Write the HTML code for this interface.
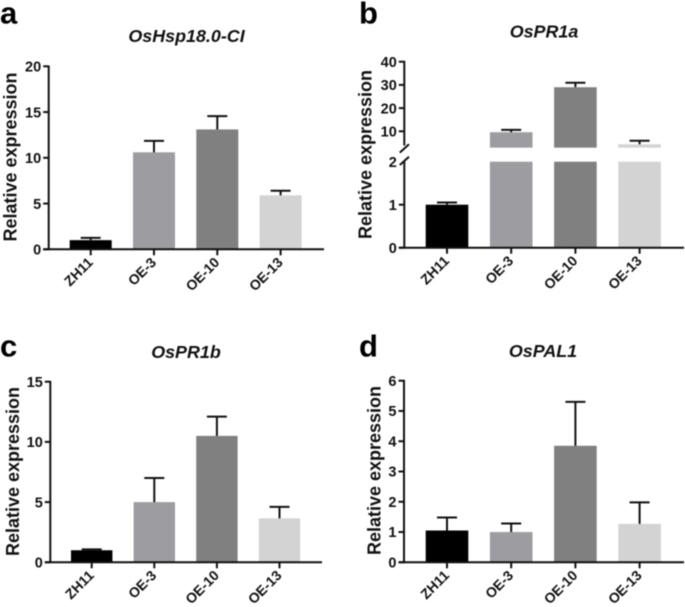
<!DOCTYPE html>
<html>
<head>
<meta charset="utf-8">
<title>Relative expression charts</title>
<style>
html,body{margin:0;padding:0;background:#fff;width:685px;height:607px;overflow:hidden}
svg{display:block;filter:blur(0.45px)}
text{font-family:"Liberation Sans",Arial,sans-serif;font-weight:700;fill:#111}
.letter{font-size:31px;fill:#000}
.title{font-size:17.9px;font-style:italic;text-anchor:middle}
.ytitle{font-size:18px;text-anchor:middle}
.tick{font-size:14.5px;text-anchor:end}
.xlab{font-size:14px;text-anchor:end}
</style>
</head>
<body>
<svg id="figure" xmlns="http://www.w3.org/2000/svg" width="685" height="607" viewBox="0 0 685 607">
<rect width="685" height="607" fill="#fff"/>
<text class="letter" x="0" y="23.5">a</text>
<text class="letter" x="359" y="23.5">b</text>
<text class="letter" x="0" y="356.5">c</text>
<text class="letter" x="359" y="356.5">d</text>
<text class="title" x="186.5" y="42">OsHsp18.0-CI</text>
<text class="title" x="544" y="37.5">OsPR1a</text>
<text class="title" x="186" y="358">OsPR1b</text>
<text class="title" x="543" y="357">OsPAL1</text>
<text class="ytitle" transform="translate(16.5,157) rotate(-90)">Relative expression</text>
<text class="ytitle" transform="translate(371.5,154.5) rotate(-90)">Relative expression</text>
<text class="ytitle" transform="translate(19,471.5) rotate(-90)">Relative expression</text>
<text class="ytitle" transform="translate(380.5,470.5) rotate(-90)">Relative expression</text>
</svg>
<script>
const categories = ["ZH11", "OE-3", "OE-10", "OE-13"];
const barColors = ["#000000", "#9d9da1", "#808080", "#d3d3d3"];

const valuesA = [1, 10.6, 13.1, 5.9];
const errorTopsA = [1.25, 11.85, 14.55, 6.4];
const ticksA = [0, 5, 10, 15, 20];

const valuesB = [1, 9.6, 29, 4.4];
const errorTopsB = [1.05, 10.6, 30.9, 5.9];
const ticksB = [0, 1, 2, 10, 20, 30, 40];

const valuesC = [1, 5, 10.5, 3.65];
const errorTopsC = [1.07, 7, 12.1, 4.6];
const ticksC = [0, 5, 10, 15];

const valuesD = [1.05, 1, 3.85, 1.27];
const errorTopsD = [1.48, 1.28, 5.3, 1.98];
const ticksD = [0, 1, 2, 3, 4, 5, 6];

const NS = "http://www.w3.org/2000/svg";
const svg = document.getElementById("figure");
const INK = "#111";

function make(tag, props) {
  const node = document.createElementNS(NS, tag);
  for (const k in props) node.setAttribute(k, props[k]);
  svg.appendChild(node);
  return node;
}
function line(x1, y1, x2, y2, w) {
  return make("line", {x1, y1, x2, y2, stroke: INK, "stroke-width": w || 2});
}
function linearY(y0, yTop, vMax) {
  return v => y0 - (v / vMax) * (y0 - yTop);
}

function drawPanel(p) {
  const xPos = i => p.firstX + i * p.stepX;
  categories.forEach((cat, i) => {
    const cx = xPos(i);
    const segments = p.segments ? p.segments(p.values[i]) : [[p.y(p.values[i]), p.y(0)]];
    segments.forEach(seg => {
      const bar = make("rect", {x: cx - p.barW / 2, y: seg[0], width: p.barW, height: seg[1] - seg[0], fill: barColors[i]});
      
      
    });
    const top = p.y(p.errorTops[i]);
    const stem = line(cx, p.y(p.values[i]), cx, top);
    
    
    const cap = line(cx - 10, top, cx + 10, top);
    
    
    const tick = line(cx, p.y0, cx, p.y0 + 6);
    
    
    const label = make("text", {class: "xlab", transform: "translate(" + (cx + 3) + "," + (p.y0 + 14) + ") rotate(-45)"});
    label.textContent = cat;
    
    
  });

  const xAxis = line(p.axisX - 5.5, p.y0, p.xEnd, p.y0);
  
  

  (p.axisRuns || [[p.y(p.ticks[p.ticks.length - 1]), p.y0]]).forEach(run => {
    const axis = line(p.axisX, run[0] - 0.8, p.axisX, run[1] + 0.8);
    
    
  });

  p.ticks.forEach(t => {
    const ty = p.y(t);
    if (t !== p.hiddenTick) {
      const tk = line(p.axisX - 5.5, ty, p.axisX, ty);
      
      
    }
    const lab = make("text", {class: "tick", x: p.axisX - 7.5, y: ty + 5.2});
    lab.textContent = t;
    
    
  });
}

/* panel a */
drawPanel({id: "a", values: valuesA, errorTops: errorTopsA, ticks: ticksA,
  y: linearY(249.3, 66.3, 20), y0: 249.3, axisX: 48.7, xEnd: 324,
  firstX: 90.7, stepX: 63.3, barW: 42});

/* panel b: broken y axis */
const BREAK_LOW = 2;
const BREAK_HIGH = 2.95;
const yB = v => v <= BREAK_LOW
  ? 247.7 - (v / BREAK_LOW) * 86
  : 131.3 - ((v - 10) / 30) * 69.6;
drawPanel({id: "b", values: valuesB, errorTops: errorTopsB, ticks: ticksB,
  y: yB, y0: 247.7, axisX: 404.3, xEnd: 684,
  firstX: 447, stepX: 64.2, barW: 42.6, hiddenTick: BREAK_LOW,
  axisRuns: [[yB(40), yB(BREAK_HIGH) - 3], [yB(BREAK_LOW), 247.7]],
  segments: v => v > BREAK_LOW
    ? [[yB(v), yB(BREAK_HIGH)], [yB(BREAK_LOW), yB(0)]]
    : [[yB(v), yB(0)]]});
const breakUpper = line(399.8, 152.6, 409, 144.3);


const breakLower = line(399.8, 165, 409, 156.7);



/* panel c */
drawPanel({id: "c", values: valuesC, errorTops: errorTopsC, ticks: ticksC,
  y: linearY(562.3, 381.7, 15), y0: 562.3, axisX: 50.3, xEnd: 322,
  firstX: 91.7, stepX: 62.6, barW: 41.4});

/* panel d */
drawPanel({id: "d", values: valuesD, errorTops: errorTopsD, ticks: ticksD,
  y: linearY(562.3, 380.7, 6), y0: 562.3, axisX: 404, xEnd: 684,
  firstX: 447, stepX: 64.2, barW: 42.6});
</script>
</body>
</html>
